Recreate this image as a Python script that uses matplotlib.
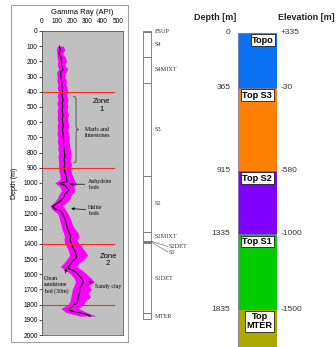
import numpy as np
import matplotlib.pyplot as plt
from matplotlib.patches import Rectangle, PathPatch
from matplotlib.path import Path

SANS = "Liberation Sans"
SERIF = "Liberation Serif"
plt.rcParams["font.family"] = SANS

# ── gamma-ray log: smoothed curve (black) ────────────────────────────────
gr_depth = [100, 125, 150, 175, 200, 225, 250, 275, 300, 325, 350, 375, 400,
            425, 450, 475, 500, 525, 550, 575, 600, 625, 650, 675, 700, 725,
            750, 775, 800, 825, 850, 875, 900, 925, 950, 975, 990, 1005, 1015,
            1030, 1050, 1075, 1100, 1120, 1140, 1155, 1170, 1180, 1200, 1225,
            1250, 1275, 1300, 1325, 1350, 1375, 1400, 1425, 1450, 1475, 1490,
            1510, 1530, 1550, 1560, 1575, 1590, 1610, 1630, 1650, 1670, 1690,
            1710, 1730, 1750, 1770, 1790, 1805, 1820, 1835, 1848, 1860, 1870,
            1878]
gr_mean = [115, 120, 112, 125, 130, 128, 138, 122, 125, 128, 132, 130, 136,
           132, 138, 134, 136, 132, 138, 134, 136, 140, 135, 138, 140, 143,
           140, 146, 148, 151, 146, 150, 145, 150, 158, 162, 165, 115, 150,
           165, 175, 150, 140, 118, 90, 70, 85, 118, 135, 145,
           155, 162, 167, 178, 189, 185, 195, 205, 217, 225, 228,
           205, 190, 175, 172, 200, 228, 245, 262, 272, 262, 250,
           248, 244, 240, 235, 228, 206, 190, 173, 217, 280, 305,
           316]

# ── gamma-ray log: raw spread (magenta envelope) ─────────────────────────
env_depth = [100, 125, 150, 175, 200, 225, 250, 275, 300, 325, 350, 375, 400,
             425, 450, 475, 500, 525, 550, 575, 600, 625, 650, 675, 700, 725,
             750, 775, 800, 825, 850, 875, 900, 925, 950, 975, 1000, 1025,
             1050, 1075, 1100, 1125, 1150, 1175, 1200, 1225, 1250, 1275, 1300,
             1325, 1350, 1375, 1400, 1425, 1450, 1475, 1500, 1525, 1550, 1575,
             1600, 1625, 1650, 1675, 1700, 1725, 1750, 1775, 1800, 1825, 1850,
             1875]
env_low = [100, 95, 98, 100, 105, 100, 110, 95, 100, 98, 105, 100, 108,
           100, 105, 98, 105, 100, 102, 100, 105, 100, 102, 98, 105, 100,
           106, 104, 110, 105, 108, 110, 108, 112, 118, 120, 85, 118,
           128, 112, 102, 82, 52, 68, 102, 112, 118, 125, 130,
           140, 148, 145, 150, 165, 175, 182, 165, 145, 120, 155,
           190, 210, 220, 210, 200, 195, 190, 185, 170, 125, 155,
           245]
env_high = [140, 150, 135, 155, 160, 150, 170, 155, 150, 160, 158, 165, 170,
            160, 172, 165, 170, 162, 175, 165, 172, 178, 168, 175, 180, 178,
            182, 185, 190, 192, 185, 195, 188, 192, 200, 210, 225, 210,
            215, 195, 185, 165, 135, 155, 170, 182, 192, 200, 215,
            235, 245, 230, 245, 265, 285, 300, 275, 245, 230, 265,
            295, 320, 345, 305, 325, 300, 320, 285, 275, 240, 290,
            355]

zone_bounds = [400, 900, 1400, 1800]

# ── stratigraphic column ─────────────────────────────────────────────────
strat_units = ["FSUP", "S4", "S4MIXT", "S3", "S2", "S2MIXT", "S2DET", "S1",
               "S1DET", "MTER"]
strat_tops = [0, 8, 173, 340, 952, 1320, 1380, 1387, 1393, 1857]
strat_base = 1895

# ── simplified well column ───────────────────────────────────────────────
col_names = ["Topo", "Top S3", "Top S2", "Top S1", "Top\nMTER"]
col_depths = [0, 365, 915, 1335, 1835]
col_elev = ["+335", "-30", "-580", "-1000", "-1500"]
col_colors = ["#0a72f2", "#ff8000", "#8000ff", "#00cc00", "#aca800"]


def fx(px):
    return px / 336


def fy(py):
    return 1 - py / 347


fig = plt.figure(figsize=(3.36, 3.47), dpi=100)

# outer frame of the log panel
fig.add_artist(Rectangle((fx(11), fy(342)), 117 / 336, 337 / 347,
                         transform=fig.transFigure, fill=False,
                         ec="#a0a0a0", lw=0.8))

# ── log panel ────────────────────────────────────────────────────────────
ax = fig.add_axes([fx(42), fy(335), 81 / 336, 304 / 347])
ax.set_facecolor("#c0c0c0")
ax.fill_betweenx(env_depth, env_low, env_high, color="#ff00ff", lw=0)
ax.plot(gr_mean, gr_depth, color="black", lw=0.8)
for d in zone_bounds:
    ax.plot([0, 475], [d, d], color="#ff2a2a", lw=0.8)
ax.set_xlim(0, 533)
ax.set_ylim(2000, 0)
ax.xaxis.tick_top()
ax.set_xticks(range(0, 501, 100))
ax.set_yticks(range(0, 2001, 100))
ax.tick_params(axis="x", length=0, pad=4, labelsize=4.7)
ax.tick_params(axis="y", length=2, width=0.5, pad=1, labelsize=4.7)
for s in ax.spines.values():
    s.set_color("#404040")
    s.set_linewidth(0.5)

fig.text(fx(82), fy(12), "Gamma Ray (API)", ha="center", va="center",
         fontsize=5.5)
fig.text(fx(15), fy(183), "Depth (m)", ha="center", va="center",
         rotation=90, fontsize=5)

ax.text(393, 490, "Zone\n1", ha="center", va="center", fontsize=5.5,
        linespacing=1.1)
ax.text(435, 1505, "Zone\n2", ha="center", va="center", fontsize=5.5,
        linespacing=1.1)

# brace beside the marls
brace = Path([(206, 430), (220, 430), (224, 440), (224, 460),
              (224, 620), (224, 640), (230, 647), (240, 647),
              (230, 647), (224, 654), (224, 674),
              (224, 840), (224, 860), (220, 868), (206, 868)],
             [Path.MOVETO, Path.CURVE4, Path.CURVE4, Path.CURVE4,
              Path.LINETO, Path.CURVE4, Path.CURVE4, Path.CURVE4,
              Path.CURVE4, Path.CURVE4, Path.CURVE4,
              Path.LINETO, Path.CURVE4, Path.CURVE4, Path.CURVE4])
ax.add_patch(PathPatch(brace, fill=False, ec="#303030", lw=0.5))
ax.text(283, 668, "Marls and\nlimestones", ha="left", va="center",
        fontsize=4.2, family=SERIF)

arrow = dict(arrowstyle="-|>", color="black", lw=0.5, mutation_scale=4,
             shrinkA=0, shrinkB=0)
ax.annotate("Anhydrite\nbeds", xy=(180, 1008), xytext=(300, 1008),
            ha="left", va="center", fontsize=4.2, family=SERIF,
            arrowprops=arrow)
ax.annotate("Halite\nbeds", xy=(192, 1168), xytext=(305, 1180),
            ha="left", va="center", fontsize=4.2, family=SERIF,
            arrowprops=arrow)
ax.annotate("Clean\nsandstone\nbed (30m)", xy=(160, 1560), xytext=(13, 1670),
            ha="left", va="center", fontsize=4.2, family=SERIF,
            arrowprops=dict(arrow, relpos=(0.85, 1.0)))
ax.annotate("Sandy clay", xy=(305, 1645), xytext=(348, 1680),
            ha="left", va="center", fontsize=4.2, family=SERIF,
            arrowprops=dict(arrow, relpos=(0.0, 0.8)), annotation_clip=False)

# ── stratigraphic column ─────────────────────────────────────────────────
ax2 = fig.add_axes([fx(138), fy(335), 72 / 336, 304 / 347])
ax2.set_xlim(138, 210)
ax2.set_ylim(2000, 0)
ax2.axis("off")
thick = np.diff(strat_tops + [strat_base])
ax2.bar(143, thick, bottom=strat_tops, width=7.5, align="edge",
        facecolor="white", edgecolor="#707070", lw=0.6)
leader = {"S2DET": 35, "S1": 64}
for name, top, th in zip(strat_units, strat_tops, thick):
    mid = top + th / 2
    if name in leader:
        ly = mid + leader[name]
        ax2.plot([151.5, 168], [mid, ly], color="#505050", lw=0.4)
        ax2.text(169, ly, name, va="center", fontsize=4.5, family=SERIF,
                 color="#333333")
    else:
        ax2.text(155, mid, name, va="center", fontsize=4.5, family=SERIF,
                 color="#333333")

# ── simplified well column ───────────────────────────────────────────────
ax3 = fig.add_axes([fx(238), 0, 38.7 / 336, 1 - 32.7 / 347])
col_base = 2085
ax3.set_xlim(0, 1)
ax3.set_ylim(col_base, 0)
ax3.axis("off")
heights = np.diff(col_depths + [col_base])
ax3.bar(0, heights, bottom=col_depths, width=1, align="edge",
        color=col_colors, edgecolor="#6a6a9a", lw=0.5)
box_x = [0.65, 0.5, 0.5, 0.5, 0.56]
for name, d, el, bx in zip(col_names, col_depths, col_elev, box_x):
    ax3.text(-0.2, d, str(d), ha="right", va="center", fontsize=6,
             color="#333333", clip_on=False)
    ax3.text(1.1, d, el, ha="left", va="center", fontsize=6,
             color="#333333", clip_on=False)
    ax3.text(bx, d + 20, name, ha="center", va="top", fontsize=6.6,
             fontweight="bold", linespacing=1.0,
             bbox=dict(boxstyle="square,pad=0.15", fc="white", ec="black",
                       lw=0.5))

fig.text(fx(215), fy(18), "Depth [m]", ha="center", va="center",
         fontsize=6.5, fontweight="bold", color="#222222")
fig.text(fx(278), fy(18), "Elevation [m]", ha="left", va="center",
         fontsize=6.5, fontweight="bold", color="#222222")

fig.savefig("out.png", dpi=100)
